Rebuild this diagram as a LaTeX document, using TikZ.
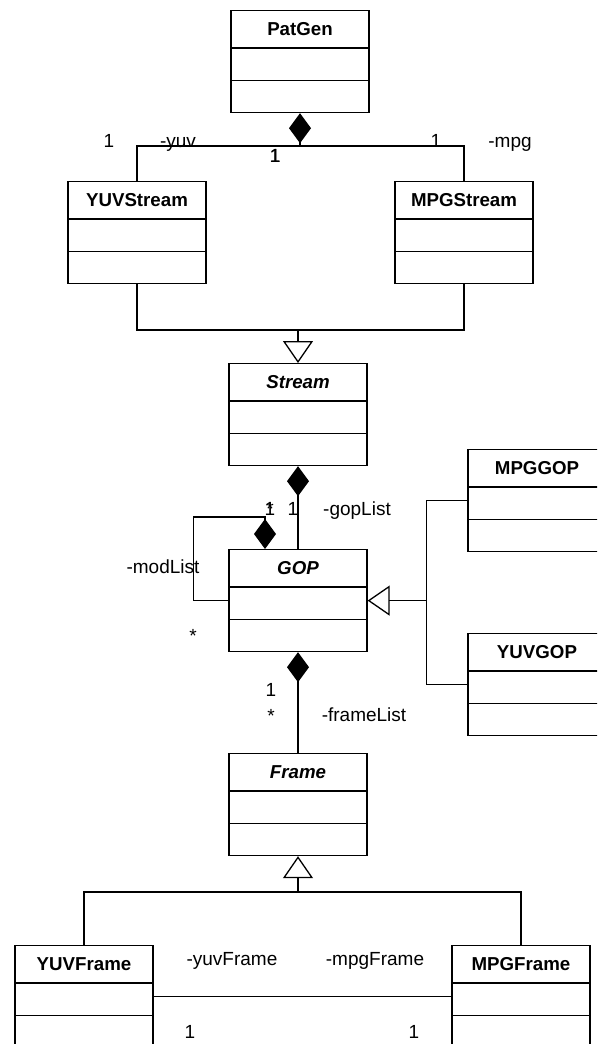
\documentclass[tikz,border=0pt]{standalone}
\usepackage{fontspec}
\setmainfont{Liberation Sans}
\usetikzlibrary{arrows.meta,shapes.multipart,calc}
% header strut plus two empty compartments
\newcommand{\umlbox}[1]{\rule[-7pt]{0pt}{26pt}#1\nodepart{second}\rule{0pt}{21pt}\nodepart{third}\rule{0pt}{21pt}}
\begin{document}
\begin{tikzpicture}[x=1pt,y=-1pt,line width=1.3pt,
  font=\fontsize{19}{22}\selectfont,
  umlclass/.style={draw, rectangle split, rectangle split parts=3,
    text width=128pt, inner xsep=5pt, inner ysep=5pt, align=center,
    anchor=north, font=\fontsize{18.7}{22}\selectfont\bfseries},
  abstract/.style={umlclass, font=\fontsize{18.7}{22}\selectfont\bfseries\itshape},
  lbl/.style={inner sep=0pt, anchor=base},
  comp/.style={{Diamond[length=30pt,width=22pt]}-},
  gen/.style={-{Triangle[open,length=22pt,width=30pt]}}]
  \useasboundingbox (0,0) rectangle (597,1044);
  \clip (0,0) rectangle (597,1044);
  % classes
  \node[umlclass] (patgen)    at (300,10)  {\umlbox{PatGen}};
  \node[umlclass] (yuvstream) at (137,181) {\umlbox{YUVStream}};
  \node[umlclass] (mpgstream) at (464,181) {\umlbox{MPGStream}};
  \node[abstract] (stream)    at (298,363) {\umlbox{Stream}};
  \node[abstract] (gop)       at (298,549) {\umlbox{GOP}};
  \node[umlclass] (mpggop)    at (537,449) {\umlbox{MPGGOP}};
  \node[umlclass] (yuvgop)    at (537,633) {\umlbox{YUVGOP}};
  \node[abstract] (frame)     at (298,753) {\umlbox{Frame}};
  \node[umlclass] (yuvframe)  at (84,945)  {\umlbox{YUVFrame}};
  \node[umlclass] (mpgframe)  at (521,945) {\umlbox{MPGFrame}};
  % PatGen owns both streams
  \coordinate (pj) at (patgen.south |- 0,146);
  \draw[comp] (patgen.south) -- (pj) -| (yuvstream.north);
  \draw (pj) -| (mpgstream.north);
  % streams generalise to Stream
  \coordinate (sj) at ($(stream.north)+(0,-33)$);
  \draw[gen] (yuvstream.south) |- (sj) -- (stream.north);
  \draw (mpgstream.south) |- (sj);
  % Stream holds GOPs, GOP holds itself
  \draw[comp] (stream.south) -- (gop.north);
  \draw[comp] ($(gop.north)+(-33,0)$) -- ++(0,-32) -| ($(gop.west)+(-35,0)$) -- (gop.west);
  % GOP subclasses
  \coordinate (gj) at ($(gop.east)+(59,0)$);
  \draw[gen] (mpggop.west) -| (gj) -- (gop.east);
  \draw (yuvgop.west) -| (gj);
  % GOP holds frames
  \draw[comp] (gop.south) -- (frame.north);
  % frame subclasses
  \coordinate (fj) at (frame.south |- 0,892);
  \draw[gen] (yuvframe.north) |- (fj) -- (frame.south);
  \draw (mpgframe.north) |- (fj);
  \draw (yuvframe.east) -- (mpgframe.west);
  % multiplicities and roles
  \node[lbl] (yuvmult)  at (109,147) {1};
  \node[lbl] (yuvrole)  at (178,147) {-yuv};
  \node[lbl] (mpgmult)  at (436,147) {1};
  \node[lbl] (mpgrole)  at (510,147) {-mpg};
  \node[lbl] (patmulta) at (275,162) {1};
  \node[lbl] (patmultb) at (275.5,162) {1};
  \node[lbl] (strmult)  at (293,515) {1};
  \node[lbl] (goprole)  at (357,515) {-gopList};
  \node[lbl] (modmulta) at (270,515) {1};
  \node[lbl] (modmultb) at (270,515) {*};
  \node[lbl] (modrole)  at (163,573) {-modList};
  \node[lbl] (modmultc) at (193,642) {*};
  \node[lbl] (gopmult)  at (271,696) {1};
  \node[lbl] (frmmult)  at (271,722) {*};
  \node[lbl] (frmrole)  at (364,721) {-frameList};
  \node[lbl] (yfrole)   at (232,965) {-yuvFrame};
  \node[lbl] (mfrole)   at (375,965) {-mpgFrame};
  \node[lbl] (yfmult)   at (190,1038) {1};
  \node[lbl] (mfmult)   at (414,1038) {1};
\end{tikzpicture}
\end{document}
